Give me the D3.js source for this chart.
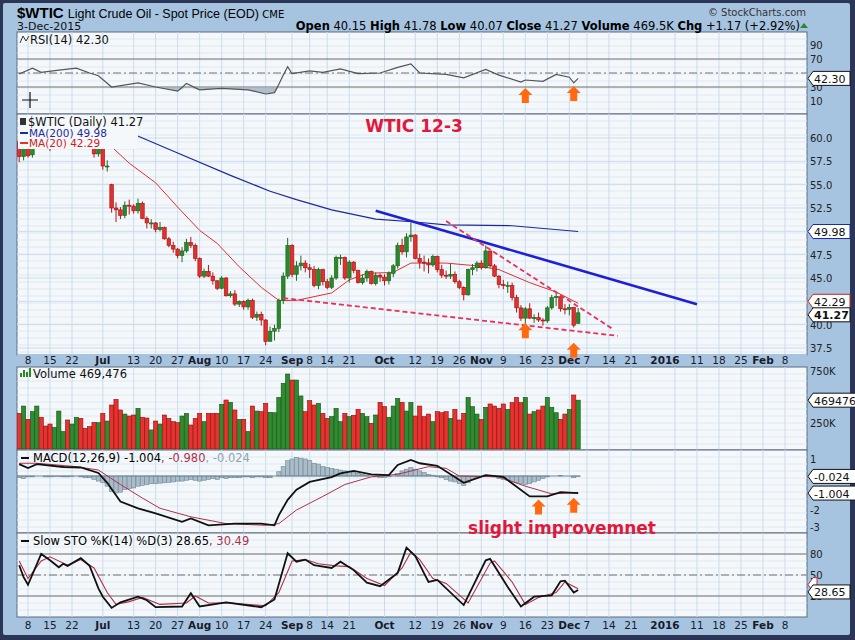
<!DOCTYPE html>
<html><head><meta charset="utf-8">
<script src="https://cdn.jsdelivr.net/npm/d3@7"></script>
<style>
body{margin:0;background:#2b3556;}
svg text{font-family:"DejaVu Sans",Verdana,sans-serif;}
</style></head>
<body><div id="chart"></div>
<script>
// ---- data ----
var opens = [59.6,58.0, 59.1,58.2,60.2,61.3,60.8, 59.9,59.6,59.9,60.0,60.4, 59.6,59.7,61.0,60.3,59.8, 59.5,58.3,
  59.4,57.0, 55.0,52.5,52.3,51.7,52.8, 52.7,52.2,53.0,51.4,50.9, 50.9,50.2,50.4,49.2,48.5, 48.1,47.4,47.9,48.8,48.5,
  47.1,45.2,45.7,45.2,44.7, 43.9,45.0,43.1,43.3,42.2, 42.5,41.9,42.6,40.8,41.1, 40.5,38.2,39.3,39.6,42.6, 45.2,
  48.5,45.4,46.3,46.6, 46.1,45.9,44.2,45.9, 44.6,44.0,45.0,47.2,47.2, 45.0,46.7,45.8,44.5,45.0, 45.7,44.4,45.3,
  45.1,44.7, 45.5,46.3,48.5,47.8,49.4, 49.6,47.1,46.7,46.6,46.4, 47.3,45.9,45.3,45.2,45.4, 44.6,44.0,43.2,45.9,46.1,
  46.6,46.1,47.9,46.3,45.2, 44.3,44.2,44.2,42.9,41.8, 40.7,41.7,40.7,40.75,40.5, 40.4,41.8,42.9,43.0, 41.7,
  41.65,41.85,40.15];
var highs = [59.8,59.4, 59.2,60.3,61.6,61.4,61.0, 60.0,60.1,60.5,60.7,60.5, 60.0,61.3,61.2,60.6,60.0, 59.6,59.8,
  59.5,57.6, 55.1,53.1,52.6,53.2,53.4, 52.9,53.5,53.2,51.6,51.3, 51.0,51.0,50.5,49.4,48.9, 48.2,48.3,49.2,49.4,48.7,
  47.2,46.0,46.4,45.6,44.8, 45.2,45.1,43.6,43.7,42.6, 42.6,42.8,42.8,41.4,41.4, 40.6,39.8,40.0,42.8,45.6, 49.3,
  48.6,46.8,47.4,46.9, 46.5,46.3,46.1,46.0, 44.9,45.3,47.4,47.5,47.3, 46.9,46.8,45.9,45.4,45.9, 45.8,45.6,45.5,
  45.4,45.7, 46.5,48.8,49.2,49.8,50.9, 49.7,47.6,47.4,47.1,47.5, 47.4,46.4,45.8,46.5,45.7, 44.8,44.1,46.0,46.5,46.8,
  46.9,48.5,47.9,46.5,45.3, 44.8,44.6,44.5,43.2,42.1, 41.9,42.3,41.1,41.3,40.7, 42.0,43.2,43.5,43.0, 42.2,
  42.2,41.9,41.78];
var lows = [57.4,57.6, 57.9,57.9,59.8,60.4,59.5, 58.6,58.9,59.2,59.7,59.4, 59.0,59.5,59.8,59.4,59.2, 57.9,58.0,
  56.6,56.4, 52.0,51.0,51.3,51.4,51.8, 51.9,51.9,51.3,50.3,50.3, 49.9,50.0,49.1,48.3,47.7, 47.1,46.7,47.7,48.2,46.8,
  45.0,45.0,45.1,44.3,43.7, 43.8,43.0,42.9,42.0,41.9, 41.6,41.6,40.6,40.4,39.9, 37.8,38.3,38.3,39.2,42.2, 44.9,
  45.1,44.7,45.8,45.6, 45.0,44.0,43.8,44.2, 43.8,43.8,44.8,46.4,44.8, 44.5,45.5,44.4,44.3,44.6, 44.3,44.2,44.6,
  44.2,44.3, 45.1,46.0,47.5,47.2,48.9, 47.0,46.0,45.7,45.5,46.2, 45.6,45.0,44.9,44.9,44.4, 43.8,42.6,43.1,45.3,45.7,
  45.9,46.0,46.1,45.1,43.9, 43.8,43.4,42.6,41.3,40.4, 40.0,40.6,40.2,40.3,39.9, 40.2,41.6,42.0,41.4, 41.1,
  41.0,39.7,40.07];
var closes = [58.0,59.1, 58.1,60.1,61.4,60.8,59.96, 59.5,59.9,60.0,60.4,59.6, 59.7,61.0,60.3,59.7,59.6, 58.3,59.5,
  57.0,57.0, 52.5,52.3,51.7,52.8,52.7, 52.2,53.0,51.4,50.9,50.9, 50.2,50.4,49.2,48.5,48.1, 47.4,47.9,48.8,48.5,47.1,
  45.2,45.7,45.2,44.7,43.9, 45.0,43.1,43.3,42.2,42.5, 41.9,42.6,40.8,41.1,40.5, 38.2,39.3,39.6,42.6,45.2, 48.5,
  45.4,46.3,46.6,46.1, 45.9,44.2,45.9,44.6, 44.0,45.0,47.2,47.2,45.0, 46.7,45.8,44.5,45.0,45.7, 44.4,45.3,45.1,
  44.7,45.5, 46.3,48.5,47.8,49.4,49.6, 47.1,46.7,46.6,46.4,47.3, 45.9,45.3,45.2,45.4,44.6, 44.0,43.2,45.9,46.1,46.6,
  46.1,47.9,46.3,45.2,44.3, 44.2,44.2,42.9,41.8,40.7, 41.7,40.7,40.75,40.5,40.4, 41.8,42.9,43.0,41.7, 41.65,
  41.85,39.94,41.27];
var volumes = [343,413,285,359,413,305,221,240,208,365,168,279,240,305,295,199,215,256,253,343,269,423,478,375,336,
  317,327,391,305,298,183,269,240,327,295,263,253,317,343,231,295,343,263,343,343,343,429,471,449,375,285,285,168,
  413,365,359,439,353,349,497,632,721,663,663,510,359,465,423,439,343,295,311,391,263,343,311,324,381,343,311,247,
  327,449,407,305,413,487,449,365,449,317,413,311,336,263,359,349,359,295,381,279,343,497,407,336,285,401,433,413,
  391,433,381,446,497,446,497,336,359,375,413,497,401,349,285,336,381,519,469.476];
var ma200 = [["2015-07-07",61.2],["2015-07-27",58.4],["2015-08-12",56.0],["2015-08-25",54.3],["2015-09-02",53.4],
  ["2015-09-15",52.3],["2015-09-29",51.3],["2015-10-12",51.0],["2015-10-21",50.7],["2015-11-11",50.6],["2015-12-03",49.98]];
var ma20 = [["2015-06-26",59.8],["2015-07-02",59.5],["2015-07-10",57.3],["2015-07-20",55.2],["2015-07-27",52.6],
  ["2015-08-03",50.1],["2015-08-07",48.7],["2015-08-14",46.2],["2015-08-21",44.0],["2015-08-27",42.6],["2015-09-02",42.6],
  ["2015-09-15",43.4],["2015-09-21",44.8],["2015-09-25",45.5],["2015-10-05",45.6],["2015-10-09",46.6],["2015-10-21",46.6],
  ["2015-10-30",46.3],["2015-11-06",45.9],["2015-11-17",44.5],["2015-11-25",43.5],["2015-12-03",42.29]];
var rsi = [["2015-06-04",48.6],["2015-06-09",57],["2015-06-11",51],["2015-06-17",54],["2015-06-23",57],["2015-06-26",50],
  ["2015-06-30",46],["2015-07-06",30],["2015-07-14",36],["2015-07-20",30],["2015-07-27",24],["2015-07-29",35],["2015-08-03",26],
  ["2015-08-10",28],["2015-08-18",26],["2015-08-24",20],["2015-08-26",22],["2015-08-27",34],["2015-08-28",47],["2015-08-31",59],
  ["2015-09-01",49],["2015-09-08",53],["2015-09-11",51],["2015-09-17",56],["2015-09-23",49],["2015-09-30",50],["2015-10-06",58],
  ["2015-10-09",63],["2015-10-13",50],["2015-10-21",48],["2015-10-27",43],["2015-11-03",55],["2015-11-06",47],["2015-11-13",37],
  ["2015-11-16",40],["2015-11-20",38],["2015-11-25",48],["2015-12-01",44],["2015-12-02",36],["2015-12-03",42.3]];
var macd = [["2015-06-04",0.7],["2015-06-08",0.47],["2015-06-10",0.7],["2015-06-18",0.53],["2015-06-24",0.5],["2015-06-30",0.18],
  ["2015-07-02",-0.4],["2015-07-08",-1.5],["2015-07-14",-1.9],["2015-07-20",-2.2],["2015-07-28",-2.7],["2015-07-30",-2.5],
  ["2015-08-05",-2.9],["2015-08-13",-2.8],["2015-08-21",-2.8],["2015-08-26",-2.9],["2015-08-27",-2.3],["2015-08-31",-1.4],
  ["2015-09-02",-0.8],["2015-09-08",-0.35],["2015-09-15",-0.06],["2015-09-17",0.15],["2015-09-22",0.3],["2015-09-28",0.1],
  ["2015-10-02",0.05],["2015-10-06",0.65],["2015-10-09",0.95],["2015-10-13",0.75],["2015-10-19",0.6],["2015-10-27",-0.4],
  ["2015-11-03",0.05],["2015-11-09",-0.05],["2015-11-17",-1.2],["2015-11-23",-1.2],["2015-11-27",-0.95],["2015-12-03",-1.004]];
var signal = [["2015-06-04",0.75],["2015-06-10",0.75],["2015-06-23",0.55],["2015-06-30",0.35],["2015-07-08",-0.5],["2015-07-15",-1.3],
  ["2015-07-21",-1.9],["2015-07-30",-2.4],["2015-08-11",-2.8],["2015-08-24",-2.9],["2015-08-27",-2.8],["2015-09-02",-2.0],
  ["2015-09-11",-1.2],["2015-09-18",-0.5],["2015-09-28",-0.05],["2015-10-06",0.1],["2015-10-15",0.55],["2015-10-21",0.45],
  ["2015-10-26",0.0],["2015-11-06",-0.05],["2015-11-16",-0.6],["2015-11-24",-1.05],["2015-12-03",-0.98]];
var hist = [-0.1,-0.15,-0.05,-0.05,0,0,-0.05,-0.05,-0.03,-0.02,-0.05,-0.05,-0.02,0,-0.05,-0.1,-0.1,-0.2,-0.3,
  -0.4,-0.6,-0.9,-1.0,-0.95,-0.8,-0.75,-0.7,-0.6,-0.55,-0.5,-0.45,-0.45,-0.42,-0.4,-0.38,-0.35,-0.3,-0.3,-0.25,-0.2,-0.25,
  -0.3,-0.25,-0.2,-0.15,-0.2,-0.1,-0.15,-0.1,-0.1,-0.1,-0.05,-0.05,-0.1,-0.05,-0.05,-0.1,-0.1,0.0,0.25,0.55,0.9,
  1.0,1.1,1.05,1.0,0.9,0.75,0.7,0.55,0.5,0.45,0.4,0.35,0.3,0.25,0.2,0.15,0.1,0.05,0.0,-0.05,-0.1,
  -0.1,-0.05,0.0,0.15,0.3,0.4,0.5,0.4,0.3,0.2,0.1,0.05,-0.05,-0.1,-0.2,-0.3,-0.35,-0.45,-0.55,-0.4,-0.2,-0.1,
  0.0,0.05,0.0,-0.05,-0.15,-0.2,-0.25,-0.35,-0.4,-0.45,-0.5,-0.45,-0.35,-0.25,-0.15,-0.05,0.0,0.0,0.02,0.0,
  0.0,-0.1,-0.024];
var stoK = [["2015-06-04",64],["2015-06-05",47],["2015-06-08",36],["2015-06-11",80],["2015-06-15",71],["2015-06-17",61],
  ["2015-06-18",66],["2015-06-19",63],["2015-06-24",74],["2015-06-26",63],["2015-06-30",31],["2015-07-01",19],["2015-07-06",3],
  ["2015-07-08",11],["2015-07-14",19],["2015-07-16",14],["2015-07-20",4],["2015-07-28",5],["2015-07-30",24],["2015-08-03",5],
  ["2015-08-11",11],["2015-08-21",4],["2015-08-26",15],["2015-08-31",81],["2015-09-02",69],["2015-09-04",72],["2015-09-09",64],
  ["2015-09-15",60],["2015-09-17",69],["2015-09-22",57],["2015-09-25",39],["2015-09-30",34],["2015-10-06",53],["2015-10-08",89],
  ["2015-10-12",77],["2015-10-15",40],["2015-10-19",43],["2015-10-27",7],["2015-11-03",71],["2015-11-04",73],["2015-11-10",33],
  ["2015-11-13",5],["2015-11-18",19],["2015-11-24",21],["2015-11-27",41],["2015-11-30",42],["2015-12-02",25],["2015-12-03",28.65]];
var stoD = [["2015-06-04",70],["2015-06-08",45],["2015-06-11",70],["2015-06-15",76],["2015-06-19",64],["2015-06-24",72],
  ["2015-06-29",60],["2015-07-02",25],["2015-07-07",8],["2015-07-10",12],["2015-07-15",18],["2015-07-21",8],["2015-07-29",10],
  ["2015-07-31",20],["2015-08-05",10],["2015-08-12",10],["2015-08-24",6],["2015-08-27",25],["2015-09-01",70],["2015-09-04",72],
  ["2015-09-10",66],["2015-09-16",63],["2015-09-21",62],["2015-09-25",45],["2015-10-01",35],["2015-10-07",60],["2015-10-09",83],
  ["2015-10-13",72],["2015-10-16",45],["2015-10-21",38],["2015-10-28",10],["2015-11-04",67],["2015-11-05",70],["2015-11-11",40],
  ["2015-11-16",8],["2015-11-19",18],["2015-11-25",25],["2015-11-30",40],["2015-12-03",30.49]];
var trendBlue = [["2015-09-29",52.2],["2016-01-11",42.2]];
var trendRedUp = [["2015-10-21",51.1],["2015-12-15",39.5]];
var trendRedLow = [["2015-08-28",42.85],["2015-12-16",38.8]];
var dateTicks = [["2015-06-08","8"],["2015-06-15","15"],["2015-06-22","22"],["2015-07-01","Jul"],["2015-07-13","13"],
  ["2015-07-20","20"],["2015-07-27","27"],["2015-08-03","Aug"],["2015-08-10","10"],["2015-08-17","17"],["2015-08-24","24"],
  ["2015-09-01","Sep"],["2015-09-08","8"],["2015-09-14","14"],["2015-09-21","21"],["2015-10-01","Oct"],["2015-10-12","12"],
  ["2015-10-19","19"],["2015-10-26","26"],["2015-11-02","Nov"],["2015-11-09","9"],["2015-11-16","16"],["2015-11-23","23"],
  ["2015-12-01","Dec"],["2015-12-07","7"],["2015-12-14","14"],["2015-12-21","21"],["2016-01-04","2016"],["2016-01-11","11"],
  ["2016-01-18","18"],["2016-01-25","25"],["2016-02-01","Feb"],["2016-02-08","8"]];
var priceGrid = [37.5,40,42.5,45,47.5,50,52.5,55,57.5,60];
var priceTicks = [37.5,40,45,47.5,52.5,55,57.5,60];
var rsiTicks = [90,70,30,10];
var volTicks = [250,750];
var macdTicks = [1,-2,-3];
var stoTicks = [80,50,20];
var upArrows = [["rsi","2015-11-16",17],["rsi","2015-12-02",20],["price","2015-11-16",39.3],["price","2015-12-02",37.2],
  ["macd","2015-11-19",-1.85],["macd","2015-12-02",-1.75]];

// ---- trading day index ----
var holidays = ["2015-07-03","2015-09-07","2015-11-26"];
var fmt = d3.timeFormat("%Y-%m-%d");
var dayIndex = {};
var n = 0;
d3.timeDay.range(new Date(2015,5,4), new Date(2016,1,13)).forEach(function(d){
  var s = fmt(d), wd = d.getDay();
  if (wd == 0 || wd == 6) return;
  if (d < new Date(2015,11,4) && holidays.indexOf(s) >= 0) return;
  dayIndex[s] = n++;
});
var days = d3.range(closes.length);
function ix(s){ return dayIndex[s]; }

var W = 855, H = 640, L = 17, R = 807;
var svg = d3.select("#chart").append("svg").attr("width",W).attr("height",H);
svg.append("rect").attr("x",3).attr("y",3).attr("width",W-8).attr("height",H-8).attr("fill","#a6c4e0").attr("rx",2);

var x = d3.scaleLinear().domain([2,174]).range([28,785]);
var panels = {
  rsi:{top:32,bot:114,y:d3.scaleLinear().domain([0,100]).range([108,38])},
  price:{top:114,bot:355,y:d3.scaleLinear().domain([60,37.5]).range([138,348])},
  vol:{top:367,bot:450,y:d3.scaleLinear().domain([0,750]).range([449,371])},
  macd:{top:450,bot:533,y:d3.scaleLinear().domain([0,-1]).range([476,493])},
  sto:{top:533,bot:617,y:d3.scaleLinear().domain([0,100]).range([610,540])}
};
var gridC = "#c9dcec";

Object.keys(panels).forEach(function(k){
  var p = panels[k];
  svg.append("rect").attr("x",L).attr("y",p.top).attr("width",R-L).attr("height",p.bot-p.top)
    .attr("fill","#f5f8fb").attr("stroke","#5a6a80");
  svg.append("clipPath").attr("id","clip-"+k).append("rect").attr("x",L).attr("y",p.top).attr("width",R-L).attr("height",p.bot-p.top);
  p.g = svg.append("g").attr("clip-path","url(#clip-"+k+")");
  var ys = d3.range(p.top+7, p.bot, 7);
  p.g.selectAll(".hg").data(ys).enter().append("line").attr("x1",L).attr("x2",R)
    .attr("y1",function(d){return d;}).attr("y2",function(d){return d;}).attr("stroke","#dde8f2");
  p.g.selectAll(".vg").data(dateTicks).enter().append("line")
    .attr("x1",function(d){return x(ix(d[0]));}).attr("x2",function(d){return x(ix(d[0]));})
    .attr("y1",p.top).attr("y2",p.bot).attr("stroke",gridC);
});

panels.price.g.selectAll(".pg").data(priceGrid).enter().append("line").attr("x1",L).attr("x2",R)
  .attr("y1",function(d){return panels.price.y(d);}).attr("y2",function(d){return panels.price.y(d);}).attr("stroke",gridC);

function hline(k,v,dash,col){
  panels[k].g.append("line").attr("x1",L).attr("x2",R).attr("y1",panels[k].y(v)).attr("y2",panels[k].y(v))
    .attr("stroke",col||"#707070").attr("stroke-dasharray",dash||null);
}
hline("rsi",70); hline("rsi",30); hline("rsi",50,"8,3,2,3");
hline("sto",80); hline("sto",20); hline("sto",50,"8,3,2,3");

function dateAxis(yy){
  svg.append("rect").attr("x",L).attr("y",yy-10).attr("width",R-L).attr("height",12).attr("fill","#a6c4e0");
  svg.selectAll(null).data(dateTicks).enter().append("text")
    .attr("x",function(d){return x(ix(d[0])) - (d[1]=="2016" ? 10 : 0);}).attr("y",yy).attr("text-anchor","middle")
    .attr("font-size",10.5).attr("font-weight",function(d){return isNaN(+d[1]) || d[1]=="2016" ? "bold":"normal";})
    .attr("fill","#1a1a2a").text(function(d){return d[1];});
}
dateAxis(364); dateAxis(629);

function rightTicks(k,vals,f){
  svg.selectAll(null).data(vals).enter().append("text").attr("x",R+3).attr("y",function(d){return panels[k].y(d)+4;})
    .attr("font-size",10).attr("fill","#222").text(f);
}
rightTicks("rsi",rsiTicks,function(d){return d;});
rightTicks("price",priceTicks,d3.format(".1f"));
rightTicks("vol",volTicks,function(d){return d+"K";});
rightTicks("macd",macdTicks,function(d){return d;});
rightTicks("sto",stoTicks,function(d){return d;});

function lineOf(k,arr,col,w){
  var p = panels[k];
  p.g.append("path").datum(arr).attr("fill","none").attr("stroke",col).attr("stroke-width",w)
    .attr("d",d3.line().x(function(d){return x(ix(d[0]));}).y(function(d){return p.y(d[1]);}));
}

// RSI
var ry = panels.rsi.y;
panels.rsi.g.append("path").datum(rsi).attr("fill","#9fb3c0").attr("opacity",0.8)
  .attr("d",d3.area().x(function(d){return x(ix(d[0]));}).y0(ry(30)).y1(function(d){return ry(Math.min(d[1],30));}));
lineOf("rsi",rsi,"#555",1.2);

// price
lineOf("price",ma200,"#1c2a9a",1.2);
lineOf("price",ma20,"#e03030",1);
var py = panels.price.y;
var cw = 3.6;
var cand = panels.price.g.selectAll(".c").data(days).enter().append("g");
function upDay(i){ return i == 0 ? closes[i] >= opens[i] : closes[i] >= closes[i-1]; }
cand.append("line").attr("x1",function(i){return x(i);}).attr("x2",function(i){return x(i);})
  .attr("y1",function(i){return py(highs[i]);}).attr("y2",function(i){return py(lows[i]);})
  .attr("stroke",function(i){return upDay(i)?"#1e6b1e":"#b01818";});
cand.append("rect").attr("x",function(i){return x(i)-cw/2;}).attr("width",cw)
  .attr("y",function(i){return py(Math.max(opens[i],closes[i]));})
  .attr("height",function(i){return Math.max(1,Math.abs(py(opens[i])-py(closes[i])));})
  .attr("fill",function(i){return upDay(i)?"#2a8a2a":"#e3302c";})
  .attr("stroke",function(i){return upDay(i)?"#1e5e1e":"#a01010";}).attr("stroke-width",0.6);

lineOf("price",trendBlue,"#1f1fd6",2.6);
panels.price.g.selectAll(null).data([trendRedUp,trendRedLow]).enter().append("path").attr("fill","none")
  .attr("stroke","#e8305a").attr("stroke-width",1.8).attr("stroke-dasharray","5,3")
  .attr("d",d3.line().x(function(d){return x(ix(d[0]));}).y(function(d){return py(d[1]);}));

// volume
var vy = panels.vol.y;
panels.vol.g.selectAll(".v").data(days).enter().append("rect")
  .attr("x",function(i){return x(i)-2.1;}).attr("width",4.2)
  .attr("y",function(i){return vy(volumes[i]);}).attr("height",function(i){return vy(0)-vy(volumes[i]);})
  .attr("fill",function(i){return upDay(i)?"#2e8b2e":"#e8322e";})
  .attr("stroke",function(i){return upDay(i)?"#1b4f1b":"#8a1010";}).attr("stroke-width",0.6);

// MACD
var my = panels.macd.y;
panels.macd.g.selectAll(".h").data(days).enter().append("rect")
  .attr("x",function(i){return x(i)-2.1;}).attr("width",4.2)
  .attr("y",function(i){return Math.min(my(0),my(hist[i]));})
  .attr("height",function(i){return Math.abs(my(hist[i])-my(0));})
  .attr("fill","#a9bcc8").attr("stroke","#6f8796").attr("stroke-width",0.6);
panels.macd.g.append("line").attr("x1",x(0)-2).attr("x2",x(127)+2).attr("y1",my(0)).attr("y2",my(0)).attr("stroke","#6f8796");
lineOf("macd",signal,"#b0304a",1);
lineOf("macd",macd,"#111",1.8);

// stochastics
lineOf("sto",stoD,"#b0304a",1.1);
lineOf("sto",stoK,"#111",1.8);

// orange arrows
upArrows.forEach(function(a){
  var cx = x(ix(a[1])), cy = panels[a[0]].y(a[2]);
  svg.append("path").attr("fill","#ff6a10")
    .attr("d","M"+cx+","+(cy-8)+" l7,7 h-3.5 v8 h-7 v-8 h-3.5 z");
});

function txt(xx,yy,s,size,col,wt,anchor){
  return svg.append("text").attr("x",xx).attr("y",yy).attr("font-size",size).attr("fill",col||"#111")
    .attr("font-weight",wt||"normal").attr("text-anchor",anchor||"start").text(s);
}
var hdr = svg.append("text").attr("x",17).attr("y",18);
hdr.append("tspan").attr("font-size",15).attr("font-weight","bold").attr("font-family","Liberation Sans, Arial").text("$WTIC ");
hdr.append("tspan").attr("font-size",12.5).attr("font-family","Liberation Sans, Arial").text("Light Crude Oil - Spot Price (EOD) ");
hdr.append("tspan").attr("font-size",10).text("CME");
txt(17,30,"3-Dec-2015",11);
txt(806,16,"© StockCharts.com",10,"#333",null,"end");
var info = svg.append("text").attr("x",800).attr("y",30).attr("text-anchor","end").attr("font-size",11.5).attr("font-family","Liberation Sans, Arial");
[["Open"," 40.15  "],["High"," 41.78  "],["Low"," 40.07  "],["Close"," 41.27  "],["Volume"," 469.5K  "],["Chg"," +1.17 (+2.92%)"]].forEach(function(p){
  info.append("tspan").attr("font-weight","bold").text(p[0]);
  info.append("tspan").text(p[1]);
});
svg.append("path").attr("d","M800,28 l4,-5 l4,5 z").attr("fill","#2a8a2a");

txt(30,44,"RSI(14) 42.30",11.5);
svg.append("path").attr("d","M20,43 l3,-7 l3,5 l3,-5").attr("fill","none").attr("stroke","#333");
svg.append("path").attr("d","M22,100 h16 M30,92 v16").attr("stroke","#111").attr("stroke-width",1.2);

svg.append("rect").attr("x",18).attr("y",115).attr("width",120).attr("height",34).attr("fill","#f5f8fb");
txt(28,126,"$WTIC (Daily) 41.27",11.5);
svg.append("rect").attr("x",20).attr("y",118).attr("width",6).attr("height",7).attr("fill","#333");
svg.append("line").attr("x1",20).attr("x2",28).attr("y1",133).attr("y2",133).attr("stroke","#1c2a9a").attr("stroke-width",2);
txt(29,137,"MA(200) 49.98",10.5,"#1c2a9a");
svg.append("line").attr("x1",20).attr("x2",28).attr("y1",143).attr("y2",143).attr("stroke","#e03030").attr("stroke-width",2);
txt(29,147,"MA(20) 42.29",10.5,"#d02020");

txt(33,378,"Volume 469,476",11.5);
svg.append("path").attr("d","M21,377 v-4 M24,377 v-7 M27,377 v-5 M30,377 v-9").attr("stroke","#2a8a2a").attr("stroke-width",2);
var mt = svg.append("text").attr("x",33).attr("y",462).attr("font-size",11.5);
mt.append("tspan").text("MACD(12,26,9) -1.004");
mt.append("tspan").attr("fill","#b0304a").text(", -0.980");
mt.append("tspan").attr("fill","#8fa4b0").text(", -0.024");
svg.append("line").attr("x1",21).attr("x2",29).attr("y1",458).attr("y2",458).attr("stroke","#111").attr("stroke-width",2);
var st = svg.append("text").attr("x",33).attr("y",545).attr("font-size",11.5);
st.append("tspan").text("Slow STO %K(14) %D(3) 28.65");
st.append("tspan").attr("fill","#b0304a").text(", 30.49");
svg.append("line").attr("x1",21).attr("x2",29).attr("y1",541).attr("y2",541).attr("stroke","#111").attr("stroke-width",2);

function tag(yy,s,col,bold){
  var w = s.length*6.6+4;
  svg.append("path").attr("d","M"+(R+1)+","+yy+" l5,-7 h"+w+" v14 h-"+w+" z")
    .attr("fill","#fff").attr("stroke",col).attr("stroke-width",1);
  txt(R+7,yy+4.5,s,11,"#111",bold?"bold":null);
}
tag(panels.rsi.y(42.3),"42.30","#111");
tag(py(49.98),"49.98","#1c2a9a");
tag(py(42.29)-2,"42.29","#d02020");
tag(py(41.27)+2,"41.27","#111",true);
tag(vy(469.476),"469476","#111");
tag(my(-0.024),"-0.024","#111");
tag(my(-1.004),"-1.004","#111");
tag(panels.sto.y(30.49)-4,"","#b0304a");
tag(panels.sto.y(28.65)+2,"28.65","#111");

txt(414,132,"WTIC 12-3",17,"#e0183c","bold","middle");
txt(562,534,"slight improvemnet",17,"#e0183c","bold","middle");
</script></body></html>
